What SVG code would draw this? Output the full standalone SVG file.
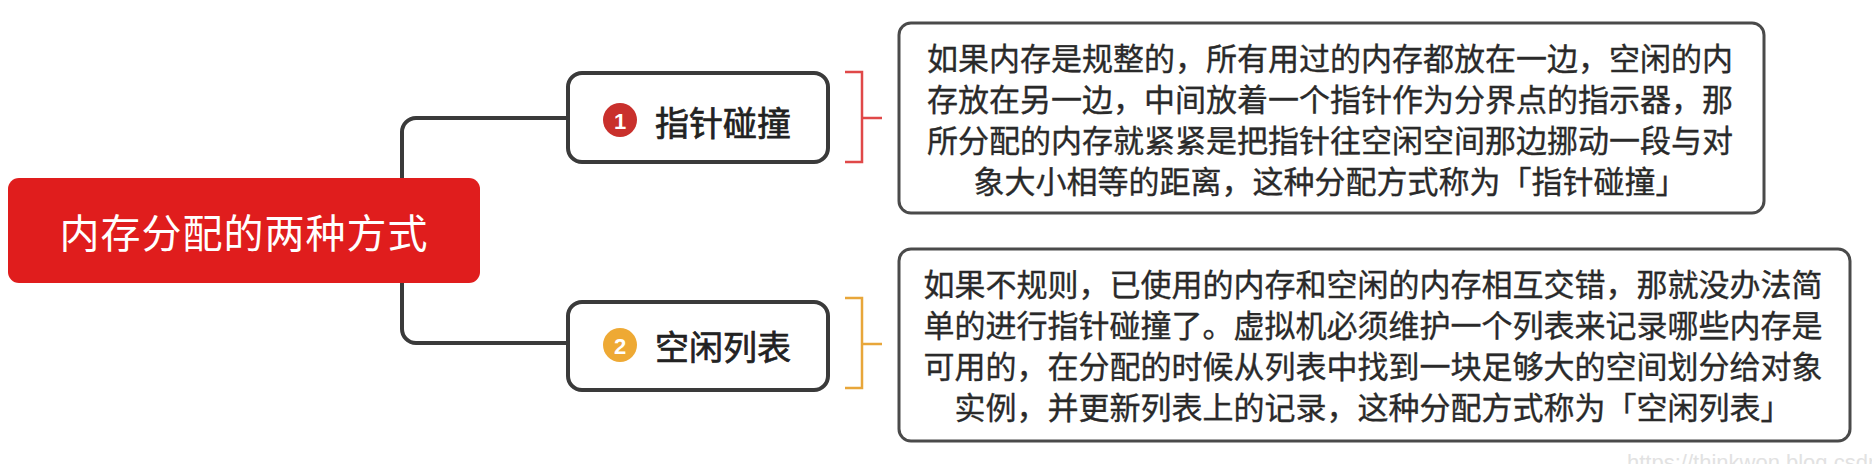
<svg xmlns="http://www.w3.org/2000/svg" width="1872" height="464" viewBox="0 0 1872 464">
<defs>
<style>
.t{font-family:"Noto Sans CJK SC","Noto Sans",sans-serif;}
.node{fill:#fff;stroke:#3a3a3a;stroke-width:4;}
.box{fill:#fff;stroke:#4a4a4a;stroke-width:3;}
.conn{fill:none;stroke:#3a3a3a;stroke-width:4;}
.lbl{font-size:34px;fill:#222;stroke:#222;stroke-width:0.7;dominant-baseline:central;}
.desc{fill:#2a2a2a;stroke:#2a2a2a;stroke-width:0.35;text-anchor:middle;dominant-baseline:central;}
.num{font-family:"Liberation Sans",Arial,sans-serif;font-size:22px;font-weight:bold;fill:#fff;text-anchor:middle;dominant-baseline:central;}
</style>
</defs>
<rect width="1872" height="464" fill="#ffffff"/>
<g id="connectors">
<path class="conn" d="M568,118 H416 A14,14 0 0 0 402,132 V329 A14,14 0 0 0 416,343 H568"/>
<path fill="none" stroke="#e04848" stroke-width="2.5" d="M845,72 H862 V162 H845 M862,118 H882"/>
<path fill="none" stroke="#e8a63a" stroke-width="2.5" d="M845,298 H862 V388 H845 M862,344 H882"/>
</g>
<g id="root">
<rect x="8" y="178" width="472" height="105" rx="11" fill="#e01d1d"/>
<text class="t" x="244" y="231" font-size="40" letter-spacing="1" fill="#fff" text-anchor="middle" dominant-baseline="central">内存分配的两种方式</text>
</g>
<g id="node1">
<rect class="node" x="568" y="73" width="260" height="89" rx="14"/>
<circle cx="620" cy="120" r="17" fill="#c9302c"/>
<text class="num" x="620" y="121">1</text>
<text class="t lbl" x="655" y="121">指针碰撞</text>
</g>
<g id="node2">
<rect class="node" x="568" y="302" width="260" height="88" rx="14"/>
<circle cx="620" cy="345" r="17" fill="#eea934"/>
<text class="num" x="620" y="346">2</text>
<text class="t lbl" x="655" y="345">空闲列表</text>
</g>
<g id="desc1">
<rect class="box" x="899" y="23" width="865" height="190" rx="12"/>
<g class="t desc" font-size="31">
<text x="1330" y="56">如果内存是规整的，所有用过的内存都放在一边，空闲的内</text>
<text x="1330" y="97">存放在另一边，中间放着一个指针作为分界点的指示器，那</text>
<text x="1330" y="138">所分配的内存就紧紧是把指针往空闲空间那边挪动一段与对</text>
<text x="1330" y="179">象大小相等的距离，这种分配方式称为「指针碰撞」</text>
</g>
</g>
<g id="desc2">
<rect class="box" x="899" y="249" width="951" height="192" rx="12"/>
<g class="t desc" font-size="31">
<text x="1373" y="282">如果不规则，已使用的内存和空闲的内存相互交错，那就没办法简</text>
<text x="1373" y="323">单的进行指针碰撞了。虚拟机必须维护一个列表来记录哪些内存是</text>
<text x="1373" y="364">可用的，在分配的时候从列表中找到一块足够大的空间划分给对象</text>
<text x="1373" y="405">实例，并更新列表上的记录，这种分配方式称为「空闲列表」</text>
</g>
</g>
<text x="1627" y="470" font-family="Liberation Sans, Arial, sans-serif" font-size="22" fill="#e2e2e2">https://thinkwon.blog.csdn.net</text>
</svg>
